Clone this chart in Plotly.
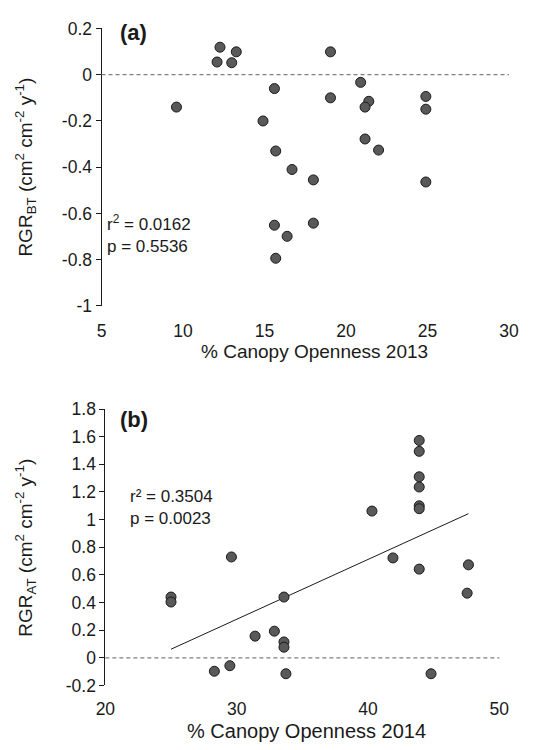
import plotly.graph_objects as go

# Panel (a): canopy openness 2013 vs RGR_BT
x_a = [9.6, 12.27, 12.09, 13.27, 12.99, 15.61, 14.91, 15.69, 19.05, 19.05, 20.9, 21.4,
       21.17, 21.17, 22.0, 24.9, 24.9, 16.69, 18.0, 24.9, 15.61, 18.0, 16.39, 15.69]
y_a = [-0.14, 0.119, 0.055, 0.099, 0.052, -0.06, -0.2, -0.33, 0.099, -0.1, -0.033, -0.115,
       -0.14, -0.278, -0.326, -0.094, -0.149, -0.41, -0.455, -0.464, -0.651, -0.642, -0.699, -0.794]

# Panel (b): canopy openness 2014 vs RGR_AT
x_b = [43.9, 43.9, 43.9, 43.9, 43.9, 43.9, 40.3, 29.6, 41.9, 43.9, 47.65, 47.55,
       25.0, 25.0, 33.6, 31.4, 32.87, 33.6, 33.6, 28.3, 29.48, 33.75, 44.8]
y_b = [1.573, 1.494, 1.310, 1.236, 1.100, 1.079, 1.062, 0.730, 0.723, 0.642, 0.673, 0.468,
       0.44, 0.404, 0.44, 0.157, 0.193, 0.115, 0.077, -0.097, -0.057, -0.115, -0.115]

# Linear trend
fit_slope = 0.0433
fit_intercept = -1.020

xticks_a = [5, 10, 15, 20, 25, 30]
yticks_a = [0.2, 0, -0.2, -0.4, -0.6, -0.8, -1]
ytick_labels_a = ["0.2", "0", "-0.2", "-0.4", "-0.6", "-0.8", "-1"]
xticks_b = [20, 30, 40, 50]
yticks_b = [1.8, 1.6, 1.4, 1.2, 1, 0.8, 0.6, 0.4, 0.2, 0, -0.2]
ytick_labels_b = ["1.8", "1.6", "1.4", "1.2", "1", "0.8", "0.6", "0.4", "0.2", "0", "-0.2"]

FONT = "Liberation Sans, Arial, sans-serif"
W, H = 544, 750

# plot-area pixel boxes (left, right, top, bottom)
A_L, A_R, A_T, A_B = 95, 518, 19, 304
B_L, B_R, B_T, B_B = 99, 508, 410, 694

fig = go.Figure()

marker = dict(size=10, color="#595959", line=dict(color="#1a1a1a", width=1))

fig.add_trace(go.Scatter(x=x_a, y=y_a, mode="markers", marker=marker,
                         xaxis="x", yaxis="y", cliponaxis=False, showlegend=False))

fx = [min(x_b), max(x_b)]
fy = [fit_slope * v + fit_intercept for v in fx]
fig.add_trace(go.Scatter(x=fx, y=fy, mode="lines", line=dict(color="#1a1a1a", width=1),
                         xaxis="x2", yaxis="y2", showlegend=False))
fig.add_trace(go.Scatter(x=x_b, y=y_b, mode="markers", marker=marker,
                         xaxis="x2", yaxis="y2", cliponaxis=False, showlegend=False))

tickfont = dict(family=FONT, size=17.5, color="#1a1a1a")

def px_x(p):
    return p / W

def px_y(p):
    return 1 - p / H

fig.update_layout(
    width=W, height=H,
    margin=dict(l=0, r=0, t=0, b=0),
    paper_bgcolor="white", plot_bgcolor="white",
    font=dict(family=FONT, color="#1a1a1a"),
    xaxis=dict(domain=[px_x(A_L), px_x(A_R)], range=[5, 30], tickvals=xticks_a,
               showgrid=False, zeroline=False, showline=False, ticks="",
               ticklabelstandoff=13, tickfont=tickfont, anchor="y"),
    yaxis=dict(domain=[px_y(A_B), px_y(A_T)], range=[-1, 0.2], tickvals=yticks_a,
               ticktext=ytick_labels_a, showgrid=False, zeroline=False,
               showline=True, linecolor="#1a1a1a", linewidth=1,
               ticks="outside", ticklen=5, tickcolor="#1a1a1a", tickwidth=1,
               tickfont=tickfont, anchor="x"),
    xaxis2=dict(domain=[px_x(B_L), px_x(B_R)], range=[20, 50], tickvals=xticks_b,
                showgrid=False, zeroline=False, showline=False, ticks="",
                ticklabelstandoff=11, tickfont=tickfont, anchor="y2"),
    yaxis2=dict(domain=[px_y(B_B), px_y(B_T)], range=[-0.2, 1.8], tickvals=yticks_b,
                ticktext=ytick_labels_b, showgrid=False, zeroline=False,
                showline=True, linecolor="#1a1a1a", linewidth=1,
                ticks="outside", ticklen=5, tickcolor="#1a1a1a", tickwidth=1,
                tickfont=tickfont, anchor="x2"),
)

# dashed zero lines
fig.add_shape(type="line", xref="x domain", yref="y", x0=0, x1=1, y0=0, y1=0,
              line=dict(color="#7f7f7f", width=1.2, dash="4px,3px"))
fig.add_shape(type="line", xref="x2 domain", yref="y2", x0=0, x1=1, y0=0, y1=0,
              line=dict(color="#7f7f7f", width=1.2, dash="4px,3px"))

ann_font = dict(family=FONT, size=17, color="#1a1a1a")

annotations = [
    dict(text="<b>(a)</b>", x=px_x(112), y=px_y(23), xanchor="left", yanchor="middle",
         font=dict(family=FONT, size=22, color="#1a1a1a")),
    dict(text="r<sup>2</sup> = 0.0162<br>p = 0.5536", x=px_x(99), y=px_y(230),
         xanchor="left", yanchor="middle", align="left", font=ann_font),
    dict(text="% Canopy Openness 2013", x=px_x((A_L + A_R) / 2 + 10), y=px_y(351),
         xanchor="center", yanchor="middle", font=dict(family=FONT, size=19, color="#1a1a1a")),
    dict(text="RGR<sub>BT</sub> (cm<sup>2</sup> cm<sup>-2</sup> y<sup>-1</sup>)",
         x=px_x(16), y=px_y((A_T + A_B) / 2), xanchor="center", yanchor="middle",
         textangle=-90, font=dict(family=FONT, size=19, color="#1a1a1a")),
    dict(text="<b>(b)</b>", x=px_x(112), y=px_y(421), xanchor="left", yanchor="middle",
         font=dict(family=FONT, size=22, color="#1a1a1a")),
    dict(text="r² = 0.3504<br>p = 0.0023", x=px_x(122), y=px_y(511),
         xanchor="left", yanchor="middle", align="left", font=ann_font),
    dict(text="% Canopy Openness 2014", x=px_x((B_L + B_R) / 2 + 4), y=px_y(741),
         xanchor="center", yanchor="middle", font=dict(family=FONT, size=20, color="#1a1a1a")),
    dict(text="RGR<sub>AT</sub> (cm<sup>2</sup> cm<sup>-2</sup> y<sup>-1</sup>)",
         x=px_x(16), y=px_y((B_T + B_B) / 2), xanchor="center", yanchor="middle",
         textangle=-90, font=dict(family=FONT, size=19, color="#1a1a1a")),
]
for a in annotations:
    fig.add_annotation(xref="paper", yref="paper", showarrow=False, **a)

fig.write_html("out.html")
